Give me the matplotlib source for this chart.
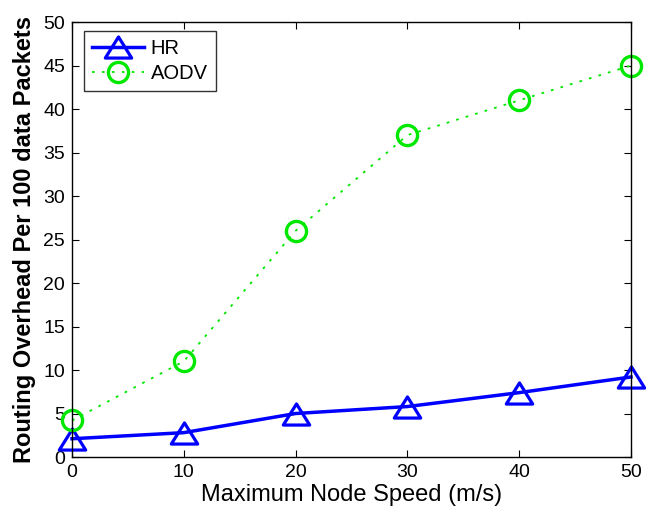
import matplotlib
matplotlib.use("Agg")
import matplotlib.pyplot as plt
from matplotlib.path import Path

speed = [0, 10, 20, 30, 40, 50]
hr = [2.1, 2.8, 5.0, 5.8, 7.4, 9.2]
aodv = [4.2, 11.0, 26.0, 37.0, 41.0, 45.0]

plt.rcParams['font.family'] = ['Liberation Sans', 'DejaVu Sans']

tri = Path([(0, 0.8), (-1, -0.8), (1, -0.8), (0, 0.8)],
           [Path.MOVETO, Path.LINETO, Path.LINETO, Path.CLOSEPOLY])

fig = plt.figure(figsize=(6.46, 5.12), dpi=100)
ax = fig.add_axes([0.1115, 0.1074, 0.8653, 0.8496])

blue = '#0000ff'
green = '#00e800'
ax.plot(speed, hr, color=blue, linestyle='-', linewidth=2.5,
        marker=tri, markersize=19, markerfacecolor='none',
        markeredgewidth=2.3, markeredgecolor=blue, label='HR', clip_on=False)
ax.plot(speed, aodv, color=green, linestyle=(0, (1.5, 4)), linewidth=1.3,
        marker='o', markersize=14.5, markerfacecolor='none',
        markeredgewidth=2.4, markeredgecolor=green, label='AODV', clip_on=False)

ax.set_xlim(0, 50)
ax.set_ylim(0, 50)
ax.set_xticks(speed)
ax.set_yticks(range(0, 51, 5))
ax.tick_params(direction='in', top=True, right=True, labelsize=14, length=5, width=0.8, pad=5)
for s in ax.spines.values():
    s.set_linewidth(1.0)

ax.set_xlabel('Maximum Node Speed (m/s)', fontsize=17, labelpad=2)
ax.set_ylabel('Routing Overhead Per 100 data Packets', fontsize=17, fontweight='bold', labelpad=5)

leg = ax.legend(loc='upper left', fontsize=14.5, frameon=True, fancybox=False,
                edgecolor='black', handlelength=2.6, borderpad=0.4,
                labelspacing=0.3, handletextpad=0.3, borderaxespad=0,
                bbox_to_anchor=(0.0215, 0.979))
leg.get_frame().set_linewidth(1.0)

fig.savefig('out.png', dpi=100)
